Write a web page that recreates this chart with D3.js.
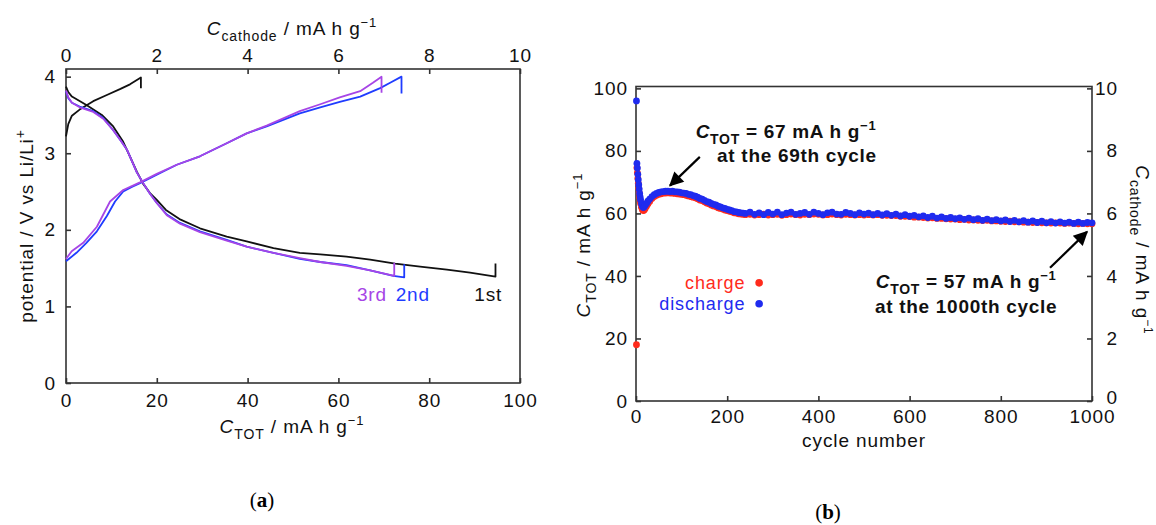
<!DOCTYPE html>
<html lang="en">
<head>
<meta charset="UTF-8">
<title>Charge/discharge curves and cycle life</title>
<style>
  body { margin: 0; background: #fff; }
  svg { display: block; font-family: "Liberation Sans", Arial, Helvetica, sans-serif; }
  .frame { fill: none; stroke: #333; stroke-width: 1.6; }
  .tick line { stroke: #333; stroke-width: 1.6; }
  .tick text { font-size: 19px; fill: #111; letter-spacing: 0.9px; }
  .domain { display: none; }
  .title { font-size: 19px; fill: #111; letter-spacing: 0.9px; }
  .ann { font-size: 19px; font-weight: bold; fill: #111; letter-spacing: 0.7px; }
  .curve { fill: none; stroke-width: 1.8; stroke-linejoin: round; }
</style>
</head>
<body>
<svg id="chart" width="1156" height="525"></svg>
<script src="https://cdn.jsdelivr.net/npm/d3@7/dist/d3.min.js"></script>
<script>
// ---- panel (a): potential vs capacity, cycles 1-3 ----
var cap1Charge = [0, 0.5, 1.3, 3, 6, 9, 12, 14.1, 16.5, 16.5];
var volt1Charge = [3.22, 3.38, 3.49, 3.57, 3.68, 3.76, 3.84, 3.90, 3.99, 3.85];
var cap1Discharge = [0, 0.5, 1.3, 4.5, 7.9, 10.4, 12.6, 14, 15.6, 17, 18.5, 20, 22, 25, 29.5, 35.4, 39.8, 45.7, 51.5, 56, 61.8, 67, 72.5, 78, 83.9, 89, 94.6, 94.6];
var volt1Discharge = [3.87, 3.80, 3.74, 3.63, 3.50, 3.35, 3.15, 2.97, 2.76, 2.60, 2.48, 2.39, 2.26, 2.14, 2.02, 1.91, 1.85, 1.76, 1.70, 1.68, 1.65, 1.61, 1.56, 1.52, 1.48, 1.44, 1.39, 1.56];

var cap2Charge = [0, 2.3, 4.5, 6.8, 9, 10.8, 12.6, 14.5, 16.3, 20, 24.4, 29.5, 35.4, 39.8, 44.2, 51.5, 56, 60.3, 64.8, 69.2, 71.4, 73.9, 73.9];
var volt2Charge = [1.59, 1.70, 1.83, 1.98, 2.18, 2.37, 2.50, 2.56, 2.61, 2.72, 2.85, 2.96, 3.13, 3.26, 3.35, 3.52, 3.60, 3.67, 3.74, 3.85, 3.92, 4.0, 3.78];
var cap2Discharge = [0, 0.5, 1.3, 3, 6, 8.2, 10.4, 12, 13.4, 14.5, 15.6, 17, 18.5, 20, 22.2, 25.1, 29.5, 35.4, 39.8, 45.7, 51.5, 56, 61.8, 67, 72.1, 74.5, 74.5];
var volt2Discharge = [3.81, 3.72, 3.66, 3.61, 3.55, 3.46, 3.30, 3.17, 3.05, 2.90, 2.75, 2.61, 2.47, 2.35, 2.20, 2.09, 1.98, 1.87, 1.78, 1.70, 1.62, 1.58, 1.54, 1.47, 1.40, 1.38, 1.55];

var cap3Charge = [0, 1.25, 3.8, 6.8, 9.7, 12.6, 14.5, 16.3, 20, 24.4, 29.5, 35.4, 39.8, 44.2, 51.5, 56, 60.3, 64.8, 67.6, 69.5, 69.5];
var volt3Charge = [1.62, 1.72, 1.83, 2.04, 2.37, 2.52, 2.57, 2.62, 2.73, 2.85, 2.96, 3.13, 3.26, 3.36, 3.55, 3.64, 3.73, 3.81, 3.92, 4.0, 3.79];
var cap3Discharge = [0, 0.5, 1.3, 3, 6, 8.2, 10.4, 12, 13.4, 14.5, 15.6, 17, 18.5, 20, 22.2, 25.1, 29.5, 35.4, 39.8, 45.7, 51.5, 56, 61.8, 67, 72.3, 72.3];
var volt3Discharge = [3.82, 3.73, 3.66, 3.60, 3.54, 3.45, 3.30, 3.17, 3.05, 2.90, 2.75, 2.61, 2.47, 2.35, 2.19, 2.08, 1.97, 1.86, 1.78, 1.70, 1.63, 1.58, 1.53, 1.47, 1.40, 1.57];

var capTicks = [0, 20, 40, 60, 80, 100];
var cathodeTicks = [0, 2, 4, 6, 8, 10];
var voltTicks = [0, 1, 2, 3, 4];

// ---- panel (b): capacity vs cycle number ----
var cycleNumbers = [1, 2, 3, 4, 5, 6, 7, 8, 9, 10, 12, 14, 16, 18, 20, 23, 26, 30,
  35, 40, 45, 50, 55, 60, 65, 70, 75, 80, 85, 90, 95, 100, 105, 110, 115, 120, 125, 130,
  135, 140, 145, 150, 155, 160, 165, 170, 175, 180, 185, 190, 195, 200, 205, 210, 215, 220,
  225, 230, 235, 240,
  250, 260, 270, 280, 290, 300, 310, 320, 330, 340, 350, 360, 370, 380, 390, 400, 410, 420,
  430, 440, 450, 460, 470, 480, 490, 500,
  510, 520, 530, 540, 550, 560, 570, 580, 590, 600, 610, 620, 630, 640, 650, 660, 670, 680,
  690, 700, 710, 720, 730, 740, 750, 760, 770, 780, 790, 800, 810, 820, 830, 840, 850, 860,
  870, 880, 890, 900, 910, 920, 930, 940, 950, 960, 970, 980, 990, 1000];
var chargeCap = [18, 74.6, 73.0, 71.2, 69.6, 68.0, 66.6, 65.2, 64.1, 63.2,
  62.0, 61.2, 60.9, 61.1, 61.6, 62.3, 63.0, 63.8,
  64.8, 65.4, 65.8, 66.1, 66.3, 66.5, 66.5, 66.6, 66.5, 66.5, 66.4, 66.3, 66.2, 66.1, 66.0, 65.8,
  65.6, 65.4, 65.2, 65.0, 64.7, 64.3, 64.1, 63.7, 63.3, 63.1, 62.7, 62.4, 62.2, 61.8, 61.6, 61.4,
  61.1, 60.9, 60.7, 60.5, 60.2, 60.1, 59.9, 59.8, 59.7, 59.6,
  59.7, 59.5, 59.6, 59.8, 59.5, 59.6, 59.7, 59.4, 59.6, 59.8, 59.6, 59.5, 59.7, 59.6, 59.8, 59.7,
  59.5, 59.6, 59.8, 59.6, 59.5, 59.7, 59.6, 59.5, 59.6, 59.5,
  59.6, 59.5, 59.6, 59.4, 59.4, 59.3, 59.3, 59.1, 59.1, 59.0, 58.8, 58.8, 58.7, 58.5, 58.6, 58.4,
  58.4, 58.3, 58.2, 58.2, 58.0, 58.1, 57.9, 57.9, 57.8, 57.7, 57.8, 57.6, 57.6, 57.5, 57.4, 57.5,
  57.3, 57.3, 57.2, 57.2, 57.1, 57.1, 57.0, 57.0, 56.9, 57.0, 56.9, 56.8, 56.9, 56.8, 56.7, 56.8,
  56.7, 56.7];
var dischargeCap = [96, 76, 74.5, 72.5, 70.8, 69.2, 67.8, 66.4, 65.3, 64.4,
  63.1, 62.3, 61.9, 62.1, 62.6, 63.2, 63.9, 64.6,
  65.4, 66.0, 66.4, 66.7, 66.9, 67.0, 67.1, 67.1, 67.0, 67.1, 66.9, 66.9, 66.8, 66.6, 66.5, 66.4,
  66.1, 66.0, 65.7, 65.5, 65.2, 64.8, 64.6, 64.2, 63.8, 63.6, 63.2, 62.9, 62.7, 62.3, 62.1, 61.8,
  61.6, 61.3, 61.1, 60.9, 60.6, 60.5, 60.3, 60.2, 60.1, 60.0,
  60.4, 59.7, 60.2, 59.6, 60.3, 59.8, 60.4, 59.6, 60.1, 60.4, 59.7, 60.0, 60.3, 59.7, 60.4, 60.0,
  59.6, 60.2, 60.4, 59.8, 59.7, 60.3, 60.0, 59.6, 60.2, 59.8,
  60.1, 59.6, 60.0, 59.5, 59.9, 59.4, 59.8, 59.2, 59.6, 59.1, 59.4, 58.9, 59.2, 58.7, 59.1, 58.5,
  58.9, 58.4, 58.7, 58.3, 58.6, 58.1, 58.5, 58.0, 58.3, 57.8, 58.2, 57.7, 58.0, 57.6, 57.9, 57.4,
  57.8, 57.3, 57.7, 57.2, 57.6, 57.1, 57.5, 57.0, 57.4, 56.9, 57.3, 56.9, 57.2, 56.8, 57.2, 56.8,
  57.1, 57.0];

var cycleTicks = [0, 200, 400, 600, 800, 1000];
var totTicks = [0, 20, 40, 60, 80, 100];
var cathodeRightTicks = [0, 2, 4, 6, 8, 10];

var svg = d3.select("#chart");
var fmt = d3.format("d");

// rich text helper: parts with italic / sub / sup
function rich(sel, parts, subSize, supSize) {
  var shift = 0;
  parts.forEach(function(p) {
    var target = p.sub ? 6 : (p.sup ? -8 : 0);
    var ts = sel.append("tspan").text(p.t).attr("dy", target - shift);
    if (p.it) ts.attr("font-style", "italic");
    if (p.sub) ts.attr("font-size", subSize);
    if (p.sup) ts.attr("font-size", supSize);
    shift = target;
  });
}

// ================= panel (a) =================
var xA = d3.scaleLinear().domain([0, 100]).range([66, 520]);
var xATop = d3.scaleLinear().domain([0, 10]).range([66, 520]);
var yA = d3.scaleLinear().domain([0, 4.1]).range([383, 69]);

var gA = svg.append("g");

gA.append("g").attr("transform", "translate(0,383)")
  .call(d3.axisBottom(xA).tickValues(capTicks).tickFormat(fmt).tickSize(-5).tickPadding(11));
gA.append("g").attr("transform", "translate(0,69)")
  .call(d3.axisTop(xATop).tickValues(cathodeTicks).tickFormat(fmt).tickSize(-5).tickPadding(7));
gA.append("g").attr("transform", "translate(66,0)")
  .call(d3.axisLeft(yA).tickValues(voltTicks).tickFormat(fmt).tickSize(-5).tickPadding(10));

gA.append("rect").attr("class", "frame")
  .attr("x", 66).attr("y", 69).attr("width", 454).attr("height", 314);

var lineA = d3.line().x(function(d) { return xA(d[0]); }).y(function(d) { return yA(d[1]); });
function curve(caps, volts, color) {
  gA.append("path").attr("class", "curve").attr("stroke", color)
    .attr("d", lineA(d3.zip(caps, volts)));
}
var c1 = "#111111", c2 = "#1f3cff", c3 = "#a645e6";
curve(cap1Charge, volt1Charge, c1);
curve(cap1Discharge, volt1Discharge, c1);
curve(cap2Charge, volt2Charge, c2);
curve(cap2Discharge, volt2Discharge, c2);
curve(cap3Charge, volt3Charge, c3);
curve(cap3Discharge, volt3Discharge, c3);

var cycleLabels = [["3rd", 67.4, c3], ["2nd", 76.4, c2], ["1st", 93, c1]];
cycleLabels.forEach(function(l) {
  gA.append("text").attr("class", "title").attr("text-anchor", "middle")
    .attr("x", xA(l[1])).attr("y", yA(1.07)).style("fill", l[2])
    .text(l[0]);
});

// axis titles
var tTop = gA.append("text").attr("class", "title").attr("text-anchor", "middle")
  .attr("x", 292).attr("y", 35);
rich(tTop, [{t: "C", it: true}, {t: "cathode", sub: true}, {t: " / mA h g"}, {t: "\u22121", sup: true}], 14, 13);

var tBot = gA.append("text").attr("class", "title").attr("text-anchor", "middle")
  .attr("x", 292).attr("y", 433);
rich(tBot, [{t: "C", it: true}, {t: "TOT", sub: true}, {t: " / mA h g"}, {t: "\u22121", sup: true}], 14, 13);

var tLeft = gA.append("text").attr("class", "title").attr("text-anchor", "middle")
  .attr("transform", "translate(33,226) rotate(-90)");
rich(tLeft, [{t: "potential / V vs Li/Li"}, {t: "+", sup: true}], 14, 14);

svg.append("text").attr("x", 262).attr("y", 507).attr("text-anchor", "middle")
  .style("font-family", "'Liberation Serif', 'DejaVu Serif', serif").style("font-size", "21px")
  .html("(<tspan font-weight='bold'>a</tspan>)");

// ================= panel (b) =================
var xB = d3.scaleLinear().domain([0, 1000]).range([636, 1092]);
var yB = d3.scaleLinear().domain([0, 100.6]).range([401, 86.5]);
var yBRight = d3.scaleLinear().domain([0, 10.06]).range([401, 86.5]);

var gB = svg.append("g");

gB.append("g").attr("transform", "translate(0,401)")
  .call(d3.axisBottom(xB).tickValues(cycleTicks).tickFormat(fmt).tickSize(-5).tickPadding(9));
gB.append("g").attr("transform", "translate(636,0)")
  .call(d3.axisLeft(yB).tickValues(totTicks).tickFormat(fmt).tickSize(-5).tickPadding(8));
var rAx = gB.append("g").attr("transform", "translate(1092,0)")
  .call(d3.axisRight(yBRight).tickValues(cathodeRightTicks).tickFormat(fmt).tickSize(-5).tickPadding(6));
rAx.selectAll("text").attr("text-anchor", "end").attr("x", 26);
// the "0" on the right axis sits a little higher, clear of "1000"
rAx.selectAll(".tick").filter(function(d) { return d === 0; }).select("text").attr("y", -4);

gB.append("rect").attr("class", "frame")
  .attr("x", 636).attr("y", 86.5).attr("width", 456).attr("height", 314.5);

var red = "#ff2b1c", blue = "#1f2bef";
var pts = d3.range(cycleNumbers.length);
gB.append("g").selectAll("circle").data(pts).join("circle")
  .attr("cx", function(i) { return xB(cycleNumbers[i]); })
  .attr("cy", function(i) { return yB(chargeCap[i]); })
  .attr("r", 3.4).attr("fill", red);
gB.append("g").selectAll("circle").data(pts).join("circle")
  .attr("cx", function(i) { return xB(cycleNumbers[i]); })
  .attr("cy", function(i) { return yB(dischargeCap[i]); })
  .attr("r", 3.4).attr("fill", blue);

// legend
var legend = [["charge", red, 37.8], ["discharge", blue, 31.1]];
legend.forEach(function(l) {
  gB.append("circle").attr("cx", xB(270)).attr("cy", yB(l[2])).attr("r", 3.8).attr("fill", l[1]);
  gB.append("text").attr("class", "title").attr("text-anchor", "end")
    .attr("x", xB(240)).attr("y", yB(l[2]) + 6).style("fill", l[1]).style("font-size", "18px")
    .text(l[0]);
});

// annotations
var defs = svg.append("defs");
defs.append("marker").attr("id", "head").attr("viewBox", "0 0 10 10")
  .attr("refX", 9).attr("refY", 5).attr("markerWidth", 8).attr("markerHeight", 6.5)
  .attr("markerUnits", "strokeWidth").attr("orient", "auto")
  .append("path").attr("d", "M0,0 L10,5 L0,10 z").attr("fill", "#000");

var arrows = [[140, 78.1, 74.6, 68.9], [908, 42.6, 989, 54.1]];
arrows.forEach(function(a) {
  gB.append("line").attr("x1", xB(a[0])).attr("y1", yB(a[1]))
    .attr("x2", xB(a[2])).attr("y2", yB(a[3]))
    .attr("stroke", "#000").attr("stroke-width", 2.2).attr("marker-end", "url(#head)");
});

var annotations = [
  [329, 84.2, "67", 353, 76.5, "at the 69th cycle"],
  [724, 36.2, "57", 724, 28.2, "at the 1000th cycle"]
];
annotations.forEach(function(a) {
  var t1 = gB.append("text").attr("class", "ann").attr("text-anchor", "middle")
    .attr("x", xB(a[0])).attr("y", yB(a[1]));
  rich(t1, [{t: "C", it: true}, {t: "TOT", sub: true}, {t: " = " + a[2] + " mA h g"}, {t: "\u22121", sup: true}], 14, 13);
  gB.append("text").attr("class", "ann").attr("text-anchor", "middle")
    .attr("x", xB(a[3])).attr("y", yB(a[4])).text(a[5]);
});

// axis titles
gB.append("text").attr("class", "title").attr("text-anchor", "middle")
  .attr("x", 864).attr("y", 447).text("cycle number");

var tBL = gB.append("text").attr("class", "title").attr("text-anchor", "middle")
  .attr("transform", "translate(590,245) rotate(-90)");
rich(tBL, [{t: "C", it: true}, {t: "TOT", sub: true}, {t: " / mA h g"}, {t: "\u22121", sup: true}], 14, 13);

var tBR = gB.append("text").attr("class", "title").attr("text-anchor", "middle")
  .attr("transform", "translate(1136,250) rotate(90)");
rich(tBR, [{t: "C", it: true}, {t: "cathode", sub: true}, {t: " / mA h g"}, {t: "\u22121", sup: true}], 14, 12);

svg.append("text").attr("x", 828).attr("y", 519).attr("text-anchor", "middle")
  .style("font-family", "'Liberation Serif', 'DejaVu Serif', serif").style("font-size", "21px")
  .html("(<tspan font-weight='bold'>b</tspan>)");
</script>
</body>
</html>
